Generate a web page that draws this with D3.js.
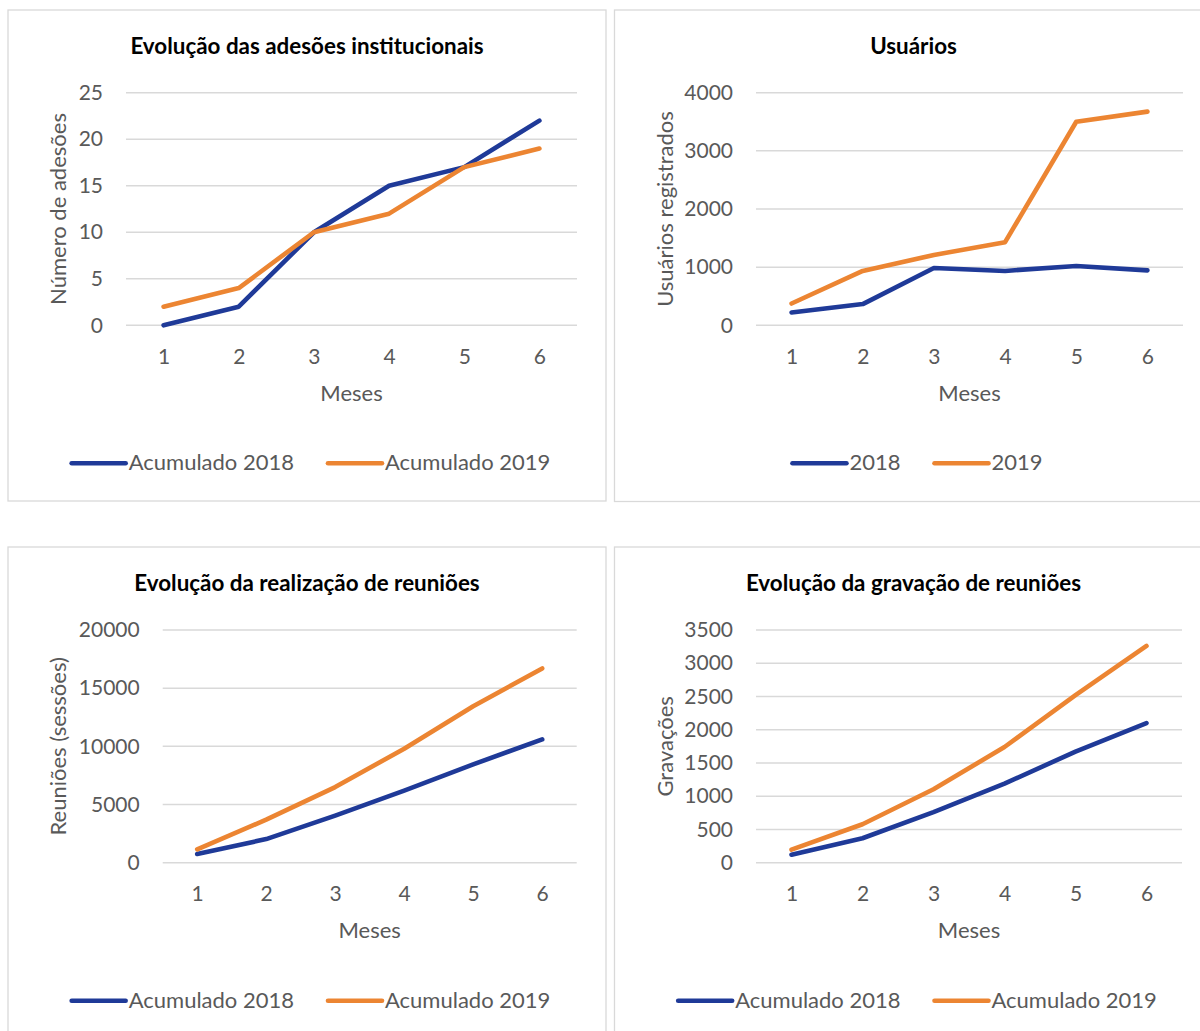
<!DOCTYPE html>
<html lang="pt">
<head>
<meta charset="utf-8">
<title>Painel de evolução</title>
<script src="https://cdn.jsdelivr.net/npm/d3@7"></script>
<style>
  html, body { margin: 0; padding: 0; background: #ffffff; }
  svg { display: block; font-family: Lato, "Open Sans", sans-serif; }
</style>
</head>
<body>
<svg id="chart" width="1200" height="1031"></svg>
<script>
// ---- Dados ----
const meses = [1, 2, 3, 4, 5, 6];

const adesoes2018 = [0, 2, 10, 15, 17, 22];
const adesoes2019 = [2, 4, 10, 12, 17, 19];
const adesoesTicks = [0, 5, 10, 15, 20, 25];

const usuarios2018 = [220, 365, 985, 935, 1020, 945];
const usuarios2019 = [375, 935, 1210, 1430, 3500, 3675];
const usuariosTicks = [0, 1000, 2000, 3000, 4000];

const reunioes2018 = [750, 2030, 4050, 6200, 8450, 10600];
const reunioes2019 = [1150, 3700, 6500, 9800, 13450, 16700];
const reunioesTicks = [0, 5000, 10000, 15000, 20000];

const gravacoes2018 = [120, 368, 760, 1190, 1670, 2100];
const gravacoes2019 = [196, 578, 1105, 1740, 2520, 3260];
const gravacoesTicks = [0, 500, 1000, 1500, 2000, 2500, 3000, 3500];

const legendaAcumulado = ["Acumulado 2018", "Acumulado 2019"];
const legendaAnos = ["2018", "2019"];

// ---- Estilo ----
const BLUE = "#1f3a98";
const ORANGE = "#ec8532";
const GRID = "#d9d9d9";
const TEXT = "#595959";

const panels = [
  {
    box: [8, 10, 598, 491],
    plot: [126, 577, 92.7, 325.3],
    title: "Evolução das adesões institucionais",
    yTitle: "Número de adesões",
    ticks: adesoesTicks,
    series: [adesoes2018, adesoes2019],
    legend: legendaAcumulado
  },
  {
    box: [614.5, 10, 598, 491.5],
    plot: [756, 1183, 92.7, 325.3],
    title: "Usuários",
    yTitle: "Usuários registrados",
    ticks: usuariosTicks,
    series: [usuarios2018, usuarios2019],
    legend: legendaAnos
  },
  {
    box: [8, 547, 598, 500],
    plot: [162.7, 576.7, 630, 862.7],
    title: "Evolução da realização de reuniões",
    yTitle: "Reuniões (sessões)",
    ticks: reunioesTicks,
    series: [reunioes2018, reunioes2019],
    legend: legendaAcumulado
  },
  {
    box: [614.5, 547, 598, 500],
    plot: [756, 1182, 630, 862.7],
    title: "Evolução da gravação de reuniões",
    yTitle: "Gravações",
    ticks: gravacoesTicks,
    series: [gravacoes2018, gravacoes2019],
    legend: legendaAcumulado
  }
];

const svg = d3.select("#chart");
const colors = [BLUE, ORANGE];

panels.forEach(p => {
  const [bx, by, bw, bh] = p.box;
  const [px0, px1, py0, py1] = p.plot;
  const cx = bx + bw / 2;
  const g = svg.append("g");

  // moldura do gráfico
  g.append("rect")
    .attr("x", bx).attr("y", by)
    .attr("width", bw).attr("height", bh)
    .attr("fill", "#ffffff")
    .attr("stroke", GRID)
    .attr("stroke-width", 1.3);

  // título
  g.append("text")
    .attr("x", cx).attr("y", by + 43.5)
    .attr("text-anchor", "middle")
    .attr("font-size", 22.4)
    .attr("font-weight", 700)
    .attr("fill", "#000000")
    .text(p.title);

  const x = d3.scalePoint().domain(meses).range([px0, px1]).padding(0.5);
  const y = d3.scaleLinear()
    .domain([0, d3.max(p.ticks)])
    .range([py1, py0]);

  // linhas de grade
  g.append("g")
    .selectAll("line")
    .data(p.ticks)
    .join("line")
    .attr("x1", px0).attr("x2", px1)
    .attr("y1", d => y(d)).attr("y2", d => y(d))
    .attr("stroke", GRID)
    .attr("stroke-width", 1.5);

  // eixo Y
  const yAxis = g.append("g")
    .attr("transform", `translate(${px0},0)`)
    .call(d3.axisLeft(y).tickValues(p.ticks).tickSize(0).tickPadding(23)
      .tickFormat(d3.format("d")));
  yAxis.select(".domain").remove();
  yAxis.selectAll("text")
    .attr("font-size", 21)
    .attr("font-family", "Lato, sans-serif")
    .attr("fill", TEXT);

  // eixo X
  const xAxis = g.append("g")
    .attr("transform", `translate(0,${py1})`)
    .call(d3.axisBottom(x).tickSize(0));
  xAxis.select(".domain").remove();
  xAxis.selectAll("text")
    .attr("dy", null)
    .attr("y", 38.7)
    .attr("font-size", 21)
    .attr("font-family", "Lato, sans-serif")
    .attr("fill", TEXT);

  // título do eixo X
  g.append("text")
    .attr("x", (px0 + px1) / 2).attr("y", py1 + 75.5)
    .attr("text-anchor", "middle")
    .attr("font-size", 22)
    .attr("fill", TEXT)
    .text("Meses");

  // título do eixo Y
  g.append("text")
    .attr("transform", `translate(${bx + 58},${(py0 + py1) / 2}) rotate(-90)`)
    .attr("text-anchor", "middle")
    .attr("font-size", 22)
    .attr("fill", TEXT)
    .text(p.yTitle);

  // séries
  const line = d3.line()
    .x((d, i) => x(meses[i]))
    .y(d => y(d));

  p.series.forEach((s, i) => {
    g.append("path")
      .datum(s)
      .attr("d", line)
      .attr("fill", "none")
      .attr("stroke", colors[i])
      .attr("stroke-width", 4.6)
      .attr("stroke-linecap", "round")
      .attr("stroke-linejoin", "round");
  });

  // legenda
  const legY = py1 + 145;
  const lineLen = 54;
  const gapText = 3;
  const gapItem = 34;
  const leg = g.append("g");
  const items = p.legend.map((label, i) => {
    const t = leg.append("text")
      .attr("y", legY)
      .attr("font-size", 22)
      .attr("fill", TEXT)
      .text(label);
    return { t, w: t.node().getComputedTextLength(), color: colors[i] };
  });
  const total = d3.sum(items, d => d.w + lineLen + gapText) + gapItem * (items.length - 1);
  let cursor = cx - total / 2 + 4;
  items.forEach(it => {
    leg.append("line")
      .attr("x1", cursor).attr("x2", cursor + lineLen)
      .attr("y1", legY - 7).attr("y2", legY - 7)
      .attr("stroke", it.color)
      .attr("stroke-width", 4.6)
      .attr("stroke-linecap", "round");
    it.t.attr("x", cursor + lineLen + gapText);
    cursor += lineLen + gapText + it.w + gapItem;
  });
});
</script>
</body>
</html>
